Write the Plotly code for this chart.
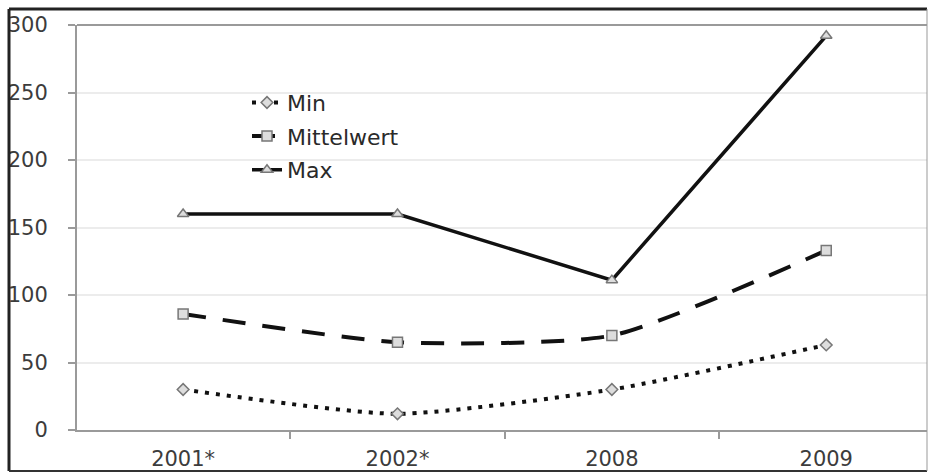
import plotly.graph_objects as go

categories = ["2001*", "2002*", "2008", "2009"]
min_vals = [30, 12, 30, 63]
mittel_vals = [86, 65, 70, 133]
max_vals = [160, 160, 111, 292]
y_ticks = [0, 50, 100, 150, 200, 250, 300]

FONT = "DejaVu Sans, Verdana, sans-serif"

fig = go.Figure()
fig.add_trace(go.Scatter(
    x=categories, y=min_vals, name="Min", mode="lines+markers",
    line=dict(color="#111111", width=4, dash="4px,7px", shape="spline", smoothing=0.6),
    marker=dict(symbol="diamond", size=9, color="#dddddd", line=dict(color="#777777", width=1.5)),
    legendgroup="a",
))
fig.add_trace(go.Scatter(
    x=categories, y=mittel_vals, name="Mittelwert", mode="lines+markers",
    line=dict(color="#111111", width=4, dash="23px,17px", shape="spline", smoothing=0.6),
    marker=dict(symbol="square", size=10, color="#dddddd", line=dict(color="#777777", width=1.5)),
    legendgroup="b",
))
fig.add_trace(go.Scatter(
    x=categories, y=max_vals, name="Max", mode="lines+markers",
    line=dict(color="#111111", width=3.5),
    marker=dict(symbol="triangle-up", size=10, color="#dddddd", line=dict(color="#777777", width=1.5)),
    legendgroup="c",
))

fig.update_layout(
    width=929, height=473,
    margin=dict(l=77, r=2, t=25, b=43, autoexpand=False),
    paper_bgcolor="white", plot_bgcolor="white",
    font=dict(family=FONT, size=21, color="#3c3c3c"),
    showlegend=True,
    legend=dict(
        x=0.2, y=0.86, xanchor="left", yanchor="top",
        bgcolor="rgba(0,0,0,0)", font=dict(size=22, color="#2a2a2a"),
        itemwidth=30, tracegroupgap=2, traceorder="grouped",
    ),
    xaxis=dict(
        type="category", range=[-0.495, 3.47],
        showline=True, linecolor="#9a9a9a", linewidth=2,
        ticks="outside", tickson="boundaries", ticklen=7, tickcolor="#9a9a9a", tickwidth=1.5,
        showgrid=False, ticklabelstandoff=9,
    ),
    yaxis=dict(
        range=[0, 300], tickvals=y_ticks,
        showline=True, linecolor="#9a9a9a", linewidth=2,
        ticks="outside", ticklen=7, tickcolor="#9a9a9a", tickwidth=1.5,
        showgrid=True, gridcolor="#ececec", gridwidth=2,
        zeroline=False, ticklabelstandoff=16,
    ),
    shapes=[
        dict(type="line", xref="paper", yref="paper", x0=0, x1=1, y0=1, y1=1,
             line=dict(color="#9a9a9a", width=2)),
        dict(type="line", xref="paper", yref="paper", x0=(9 - 77) / 850, x1=1.0,
             y0=1 + 16 / 405, y1=1 + 16 / 405, line=dict(color="#222222", width=3)),
        dict(type="line", xref="paper", yref="paper", x0=(9 - 77) / 850, x1=(9 - 77) / 850,
             y0=-41 / 405, y1=1 + 16 / 405, line=dict(color="#222222", width=3)),
        dict(type="line", xref="paper", yref="paper", x0=(9 - 77) / 850, x1=1.0,
             y0=-41 / 405, y1=-41 / 405, line=dict(color="#333333", width=2)),
        dict(type="line", xref="paper", yref="paper", x0=1.0, x1=1.0,
             y0=-41 / 405, y1=1 + 16 / 405, line=dict(color="#999999", width=1)),
    ],
)

fig.write_html(
    "out.html",
    config={"displayModeBar": False},
    post_script="document.body.style.margin='0';document.body.style.overflow='hidden';",
)
